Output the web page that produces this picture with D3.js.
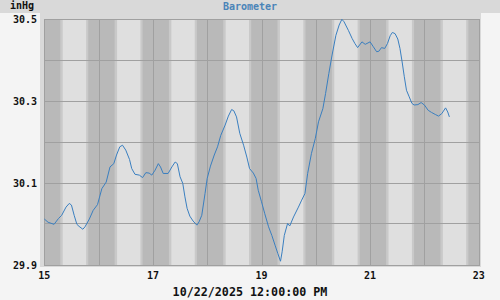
<!DOCTYPE html>
<html>
<head>
<meta charset="utf-8">
<script src="https://cdn.jsdelivr.net/npm/d3@7"></script>
<style>
  body { margin: 0; background: #f4f4f4; }
  svg { display: block; }
  text { font-family: "DejaVu Sans Mono", monospace; }
</style>
</head>
<body>
<script>
// barometer readings, x = day of month (fractional), y = inHg
const days = [
  15.00, 15.07, 15.18, 15.26, 15.32, 15.40, 15.46, 15.50, 15.55, 15.60,
  15.64, 15.71, 15.75, 15.83, 15.90, 15.98, 16.06, 16.14, 16.21, 16.28,
  16.33, 16.39, 16.44, 16.50, 16.57, 16.61, 16.67, 16.75, 16.81, 16.87,
  16.93, 16.98, 17.04, 17.10, 17.14, 17.19, 17.28, 17.35, 17.41, 17.45,
  17.50, 17.55, 17.59, 17.63, 17.68, 17.74, 17.81, 17.85, 17.90, 17.96,
  18.00, 18.06, 18.13, 18.19, 18.25, 18.33, 18.39, 18.45, 18.49, 18.54,
  18.60, 18.67, 18.73, 18.78, 18.85, 18.90, 18.94, 19.00, 19.06, 19.13,
  19.19, 19.25, 19.30, 19.35, 19.38, 19.42, 19.48, 19.52, 19.59, 19.68,
  19.74, 19.80, 19.85, 19.92, 19.99, 20.05, 20.13, 20.18, 20.24, 20.30,
  20.37, 20.43, 20.48, 20.52, 20.60, 20.67, 20.72, 20.77, 20.85, 20.91,
  21.00, 21.06, 21.12, 21.16, 21.21, 21.27, 21.32, 21.37, 21.41, 21.46,
  21.51, 21.55, 21.59, 21.63, 21.67, 21.72, 21.77, 21.81, 21.88, 21.94,
  22.00, 22.07, 22.13, 22.20, 22.26, 22.32, 22.39, 22.43, 22.46
];
const pressure = [
  30.011, 30.003, 29.998, 30.012, 30.020, 30.040, 30.049, 30.045, 30.020, 29.998,
  29.993, 29.986, 29.992, 30.011, 30.032, 30.046, 30.085, 30.101, 30.138, 30.146,
  30.167, 30.187, 30.191, 30.179, 30.156, 30.134, 30.120, 30.118, 30.112, 30.124,
  30.123, 30.118, 30.130, 30.146, 30.138, 30.122, 30.122, 30.138, 30.150, 30.146,
  30.114, 30.098, 30.065, 30.037, 30.018, 30.006, 29.996, 30.004, 30.020, 30.073,
  30.110, 30.140, 30.167, 30.187, 30.215, 30.240, 30.262, 30.278, 30.275, 30.260,
  30.220, 30.191, 30.162, 30.134, 30.123, 30.110, 30.081, 30.053, 30.024, 29.992,
  29.971, 29.947, 29.927, 29.908, 29.931, 29.971, 30.000, 29.994, 30.016, 30.040,
  30.057, 30.073, 30.122, 30.171, 30.207, 30.248, 30.280, 30.317, 30.366, 30.411,
  30.459, 30.484, 30.498, 30.492, 30.471, 30.451, 30.439, 30.429, 30.443, 30.437,
  30.443, 30.431, 30.419, 30.420, 30.429, 30.427, 30.439, 30.458, 30.466, 30.463,
  30.450, 30.427, 30.394, 30.358, 30.325, 30.309, 30.293, 30.289, 30.290, 30.295,
  30.289, 30.276, 30.271, 30.266, 30.262, 30.268, 30.282, 30.272, 30.260
];

const xTicks = [15, 17, 19, 21, 23];
const yTicks = [29.9, 30.1, 30.3, 30.5];
const dayList = [15, 16, 17, 18, 19, 20, 21, 22];
// fraction of day: dawn, sunrise, sunset, dusk
const dawn = 0.295, sunrise = 0.34, sunset = 0.77, dusk = 0.81;

const W = 500, H = 300;
const svg = d3.select('body').append('svg')
  .attr('width', W).attr('height', H);

svg.append('rect').attr('width', W).attr('height', H).attr('fill', '#f4f4f4');
svg.append('rect').attr('width', W).attr('height', 13).attr('fill', '#d9d9d9');
svg.append('rect').attr('x', 40).attr('y', 13).attr('width', 441).attr('height', 254)
  .attr('fill', '#d9d9d9');

const x = d3.scaleLinear().domain([15, 23]).range([44.3, 478.7]);
const y = d3.scaleLinear().domain([29.9, 30.5]).range([264.5, 18.5]);
const snap = v => Math.round(v) + 0.5;

const plot = svg.append('g');
const x0 = snap(x(15)), x1 = snap(x(23));
const y0 = snap(y(30.5)), y1 = snap(y(29.9));

// night background
plot.append('rect').attr('x', x0).attr('y', y0)
  .attr('width', x1 - x0).attr('height', y1 - y0).attr('fill', '#b9b9b9');

// twilight and daylight bands
dayList.forEach(d => {
  plot.append('rect')
    .attr('x', x(d + dawn)).attr('y', y0)
    .attr('width', x(d + dusk) - x(d + dawn)).attr('height', y1 - y0)
    .attr('fill', '#c9c9c9');
  plot.append('rect')
    .attr('x', x(d + sunrise)).attr('y', y0)
    .attr('width', x(d + sunset) - x(d + sunrise)).attr('height', y1 - y0)
    .attr('fill', '#dfdfdf');
});

// grid
const grid = plot.append('g').attr('stroke', '#a0a0a0').attr('stroke-width', 1);
d3.range(15, 24).forEach(d => {
  grid.append('line').attr('x1', snap(x(d))).attr('x2', snap(x(d)))
    .attr('y1', y0).attr('y2', y1);
});
d3.range(0, 7).forEach(i => {
  const v = 29.9 + i * 0.1;
  grid.append('line').attr('x1', x0).attr('x2', x1)
    .attr('y1', snap(y(v))).attr('y2', snap(y(v)));
});
plot.append('rect').attr('x', x0).attr('y', y0)
  .attr('width', x1 - x0).attr('height', y1 - y0)
  .attr('fill', 'none').attr('stroke', '#a0a0a0');

// line
const line = d3.line().x((d, i) => x(days[i])).y(d => y(d));
plot.append('path').datum(pressure)
  .attr('d', line)
  .attr('fill', 'none')
  .attr('stroke', '#3a7fc0')
  .attr('stroke-width', 1);

// axis labels
svg.append('g').selectAll('text').data(yTicks).join('text')
  .attr('x', 37).attr('y', d => y(d) + 4)
  .attr('text-anchor', 'end')
  .attr('font-size', 10).attr('font-weight', 'bold').attr('fill', '#111')
  .text(d => d.toFixed(1));

svg.append('g').selectAll('text').data(xTicks).join('text')
  .attr('x', d => x(d)).attr('y', 279)
  .attr('text-anchor', 'middle')
  .attr('font-size', 10).attr('font-weight', 'bold').attr('fill', '#111')
  .text(d => d);

svg.append('text').attr('x', 10).attr('y', 9)
  .attr('font-size', 10).attr('font-weight', 'bold').attr('fill', '#111')
  .text('inHg');

svg.append('text').attr('x', 250).attr('y', 10)
  .attr('text-anchor', 'middle')
  .attr('font-size', 10).attr('font-weight', 'bold').attr('fill', '#4a84b8')
  .text('Barometer');

svg.append('text').attr('x', 250).attr('y', 296)
  .attr('text-anchor', 'middle')
  .attr('font-size', 11.7).attr('font-weight', 'bold').attr('fill', '#111')
  .text('10/22/2025 12:00:00 PM');
</script>
</body>
</html>
